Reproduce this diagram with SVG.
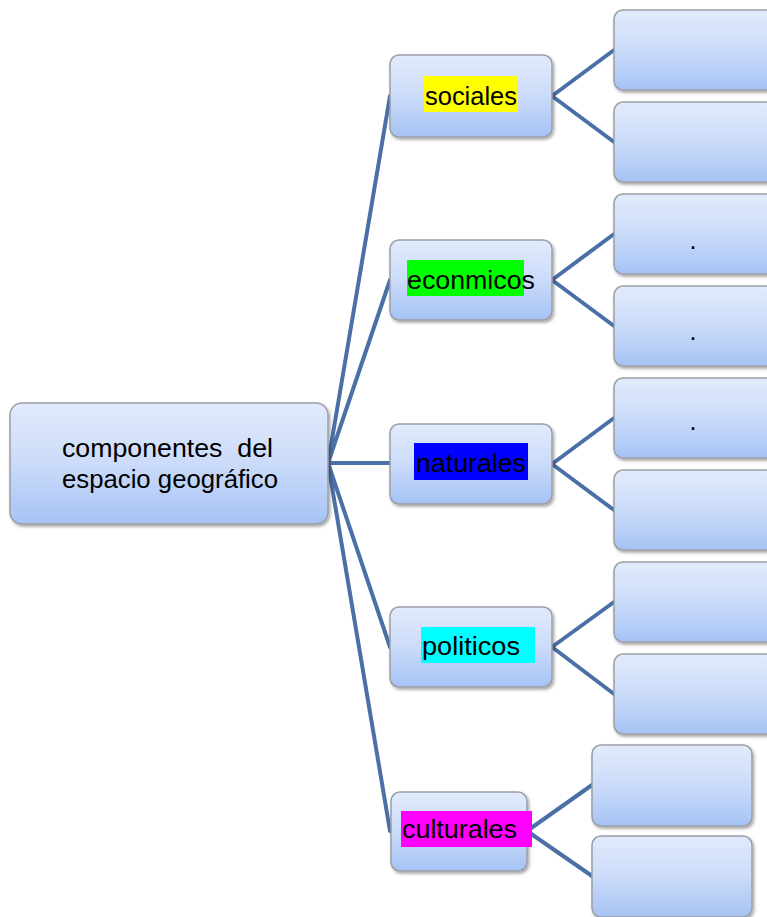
<svg xmlns="http://www.w3.org/2000/svg" width="767" height="917" viewBox="0 0 767 917">
<defs>
<linearGradient id="g" x1="0" y1="0" x2="0" y2="1">
<stop offset="0" stop-color="#e2ebfc"/>
<stop offset="0.5" stop-color="#cbdbf9"/>
<stop offset="1" stop-color="#a6c3f5"/>
</linearGradient>
<filter id="sh" x="-10%" y="-10%" width="130%" height="130%">
<feDropShadow dx="1.5" dy="2" stdDeviation="1.5" flood-color="#000" flood-opacity="0.35"/>
</filter>
<style>
.box{fill:url(#g);stroke:#9a9ea6;stroke-width:1.5;filter:url(#sh)}
.t{font-family:"Liberation Sans",Arial,sans-serif;font-size:25px;fill:#000}
.c{fill:none;stroke:#4a70a6;stroke-width:4;stroke-linecap:round;stroke-linejoin:round}
</style>
</defs>
<rect width="767" height="917" fill="#fff"/>
<g id="connectors">
<path class="c" d="M328,463 L390,96 M328,463 L390,280 M328,463 L390,463 M328,463 L390,647 M328,463 L390,831"/>
<path class="c" d="M614,50 L552,96 L614,142"/>
<path class="c" d="M614,234 L552,280 L614,326"/>
<path class="c" d="M614,418 L552,464 L614,510"/>
<path class="c" d="M614,602 L552,647 L614,694"/>
<path class="c" d="M592,785 L527,831 L592,876"/>
</g>
<g id="root">
<rect class="box" x="10" y="403" width="318" height="121" rx="12"/>
<text class="t" x="62" y="457" textLength="211" lengthAdjust="spacingAndGlyphs" xml:space="preserve">componentes  del</text>
<text class="t" x="62" y="488" textLength="216" lengthAdjust="spacingAndGlyphs">espacio geográfico</text>
</g>
<g id="sociales">
<rect class="box" x="390" y="55" width="162" height="82" rx="9"/>
<rect x="424" y="76" width="94" height="36" fill="#ffff00"/>
<text class="t" x="425" y="105" textLength="92" lengthAdjust="spacingAndGlyphs">sociales</text>
</g>
<g id="econmicos">
<rect class="box" x="390" y="240" width="162" height="80" rx="9"/>
<rect x="407" y="260" width="117" height="36" fill="#00ff00"/>
<text class="t" x="407" y="289" textLength="128" lengthAdjust="spacingAndGlyphs">econmicos</text>
</g>
<g id="naturales">
<rect class="box" x="390" y="424" width="162" height="80" rx="9"/>
<rect x="414" y="443" width="114" height="37" fill="#0000ff"/>
<text class="t" x="416" y="472" textLength="110" lengthAdjust="spacingAndGlyphs">naturales</text>
</g>
<g id="politicos">
<rect class="box" x="390" y="607" width="162" height="80" rx="9"/>
<rect x="421" y="627" width="114" height="36" fill="#00ffff"/>
<text class="t" x="422" y="655" textLength="98" lengthAdjust="spacingAndGlyphs">politicos</text>
</g>
<g id="culturales">
<rect class="box" x="391" y="792" width="136" height="79" rx="9"/>
<rect x="401" y="811" width="131" height="36" fill="#ff00ff"/>
<text class="t" x="402" y="838" textLength="115" lengthAdjust="spacingAndGlyphs">culturales</text>
</g>
<g id="s1"><rect class="box" x="614" y="10" width="162" height="80" rx="9"/></g>
<g id="s2"><rect class="box" x="614" y="102" width="162" height="80" rx="9"/></g>
<g id="e1"><rect class="box" x="614" y="194" width="162" height="80" rx="9"/><text class="t" x="693" y="249" text-anchor="middle">.</text></g>
<g id="e2"><rect class="box" x="614" y="286" width="162" height="80" rx="9"/><text class="t" x="693" y="340" text-anchor="middle">.</text></g>
<g id="n1"><rect class="box" x="614" y="378" width="162" height="80" rx="9"/><text class="t" x="693" y="430" text-anchor="middle">.</text></g>
<g id="n2"><rect class="box" x="614" y="470" width="162" height="80" rx="9"/></g>
<g id="p1"><rect class="box" x="614" y="562" width="162" height="80" rx="9"/></g>
<g id="p2"><rect class="box" x="614" y="654" width="162" height="80" rx="9"/></g>
<g id="c1"><rect class="box" x="592" y="745" width="160" height="81" rx="9"/></g>
<g id="c2"><rect class="box" x="592" y="836" width="160" height="81" rx="9"/></g>
</svg>
